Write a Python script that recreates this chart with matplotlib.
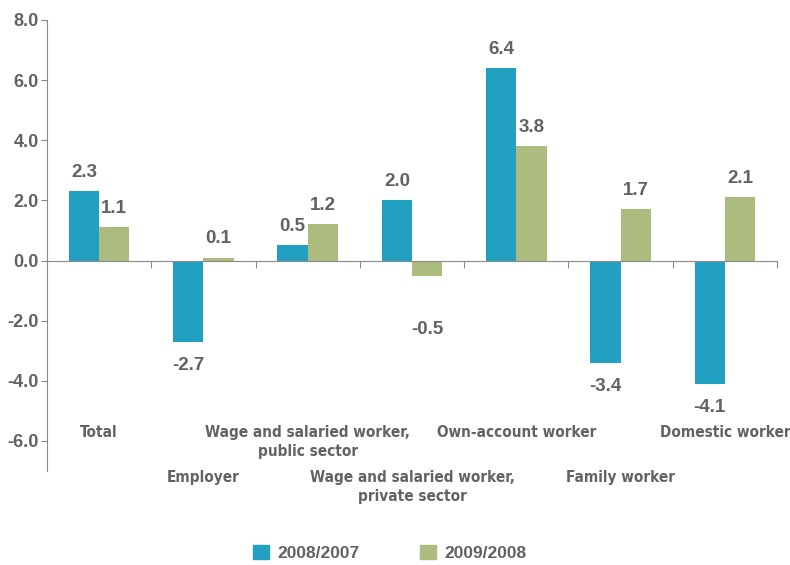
import numpy as np
import matplotlib.pyplot as plt
from matplotlib.patches import Patch

# Variación por categoría ocupacional
categorias = ['Total', 'Employer', 'Wage and salaried worker,\npublic sector',
              'Wage and salaried worker,\nprivate sector', 'Own-account worker',
              'Family worker', 'Domestic worker']
v_2008_2007 = [2.3, -2.7, 0.5, 2.0, 6.4, -3.4, -4.1]
v_2009_2008 = [1.1, 0.1, 1.2, -0.5, 3.8, 1.7, 2.1]
series = ['2008/2007', '2009/2008']

azul = '#21a0c1'
verde = '#abbc7e'
gris = '#626262'

fig = plt.figure(figsize=(7.9, 5.65), dpi=100)
ax = fig.add_axes([47 / 790, 94 / 565, 730 / 790, 451 / 565])

x = np.arange(len(categorias)) + 0.5
ancho = 0.29
b1 = ax.bar(x - ancho / 2, v_2008_2007, ancho, color=azul)
b2 = ax.bar(x + ancho / 2, v_2009_2008, ancho, color=verde)

# Etiquetas de valor encima / debajo de cada barra
for barras, valores in ((b1, v_2008_2007), (b2, v_2009_2008)):
    for b, v in zip(barras, valores):
        cx = b.get_x() + b.get_width() / 2
        if v >= 0:
            y = v + 0.63
        else:
            y = min(v, -1.5) - 0.78
        ax.text(cx, y, f'{v:.1f}', ha='center', va='center', fontsize=13.5,
                fontweight='bold', color=gris, family='Liberation Sans')

ax.set_xlim(0, 7)
ax.set_ylim(-7, 8)
ax.set_yticks(np.arange(-6, 9, 2))
ax.set_yticklabels([f'{t:.1f}' for t in np.arange(-6, 9, 2)])
ax.set_xticks(range(1, 8))
ax.set_xticklabels([])

for s in ('top', 'right'):
    ax.spines[s].set_visible(False)
ax.spines['bottom'].set_position(('data', 0))
ax.spines['bottom'].set_color('#8a8a8a')
ax.spines['left'].set_color('#8a8a8a')
ax.tick_params(axis='x', direction='out', length=5, color='#8a8a8a')
ax.tick_params(axis='y', direction='out', length=4, color='#8a8a8a', pad=2)
for t in ax.get_yticklabels():
    t.set_fontsize(13)
    t.set_fontweight('bold')
    t.set_color(gris)
    t.set_family('Liberation Sans')

# Nombres de categoría en dos filas alternadas
for i, (cx, nombre) in enumerate(zip(x, categorias)):
    y = -5.47 if i % 2 == 0 else -6.97
    ax.text(cx, y, nombre, ha='center', va='top', fontsize=11, fontweight='bold',
            color=gris, family='DejaVu Sans', fontstretch='condensed',
            linespacing=1.3, clip_on=False)

handles = [Patch(color=azul, label=series[0]), Patch(color=verde, label=series[1])]
fig.legend(handles=handles, loc='center', bbox_to_anchor=(390 / 790, 12 / 565),
           ncol=2, frameon=False, handlelength=0.9, handleheight=0.9,
           columnspacing=3.5, handletextpad=0.5,
           prop={'family': 'Liberation Sans', 'weight': 'bold', 'size': 12.5})
for t in fig.legends[0].get_texts():
    t.set_color(gris)

fig.savefig('out.png', dpi=100)
